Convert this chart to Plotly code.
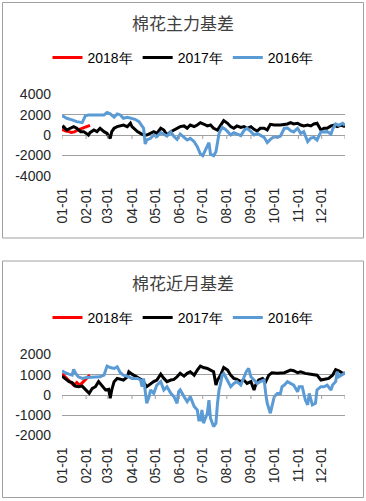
import plotly.graph_objects as go

# ---------------- data ----------------
YEAR = "2001"  # common axis year (month-day comparison)

month_ticks = ["01-01", "02-01", "03-01", "04-01", "05-01", "06-01",
               "07-01", "08-01", "09-01", "10-01", "11-01", "12-01"]

y_ticks_main = [-4000, -2000, 0, 2000, 4000]
y_ticktext_main = ["-4000", "-2000", "0", "2000", "4000"]
y_ticks_near = [-2000, -1000, 0, 1000, 2000]
y_ticktext_near = ["-2000", "-1000", "0", "1000", "2000"]

series_names = ["2018年", "2017年", "2016年"]

# ---- 棉花主力基差 ----
main_2018_dates = ["01-01", "01-05", "01-09", "01-13", "01-17", "01-21", "01-25", "01-29", "02-02", "02-06"]
main_2018_vals = [550, 400, 350, 250, 300, 500, 600, 700, 820, 950]

main_2017_dates = ["01-01", "01-03", "01-07", "01-12", "01-16", "01-20", "01-25", "01-29", "02-02", "02-04",
                   "02-06", "02-11", "02-15", "02-19", "02-24", "02-28", "03-02", "03-04", "03-06", "03-09",
                   "03-13", "03-17", "03-21", "03-26", "03-30", "04-01", "04-03", "04-08", "04-12", "04-16",
                   "04-20", "04-25", "04-29", "05-03", "05-08", "05-12", "05-16", "05-21", "05-25", "05-29",
                   "06-02", "06-07", "06-11", "06-15", "06-20", "06-24", "06-28", "07-02", "07-07", "07-11",
                   "07-15", "07-20", "07-24", "07-28", "08-02", "08-06", "08-10", "08-14", "08-19", "08-23",
                   "08-27", "09-01", "09-05", "09-09", "09-13", "09-18", "09-22", "09-26", "10-01", "10-09",
                   "10-18", "10-22", "10-26", "10-31", "11-04", "11-08", "11-13", "11-17", "11-21", "11-25",
                   "11-30", "12-04", "12-08", "12-13", "12-17", "12-21", "12-26", "12-31"]
main_2017_vals = [700, 820, 490, 660, 820, 660, 330, 330, 160, 0,
                  230, 490, 330, 660, 330, 160, -160, -330, 330, 660,
                  820, 890, 980, 820, 1150, 820, 660, 330, 160, 0,
                  0, 160, 330, 160, 660, 490, 0, 330, 490, 660,
                  820, 890, 660, 980, 820, 980, 1210, 1080, 890, 980,
                  660, 490, 980, 1410, 1150, 820, 660, 890, 750, 820,
                  660, 820, 560, 390, 660, 660, 490, 1050, 980, 980,
                  1080, 1210, 1080, 1150, 980, 890, 980, 890, 1080, 1150,
                  490, 660, 660, 890, 980, 820, 980, 820]

main_2016_dates = ["01-01", "01-07", "01-14", "01-20", "01-27", "01-31", "02-04", "02-11", "02-17", "02-24",
                   "02-28", "03-04", "03-09", "03-13", "03-17", "03-21", "03-26", "03-30", "04-05", "04-10",
                   "04-14", "04-16", "04-18", "04-20", "04-25", "04-29", "05-03", "05-08", "05-12", "05-16",
                   "05-21", "05-25", "05-29", "06-02", "06-07", "06-11", "06-15", "06-20", "06-24", "06-28",
                   "07-01", "07-04", "07-07", "07-09", "07-11", "07-15", "07-18", "07-20", "07-22", "07-26",
                   "07-30", "08-02", "08-06", "08-10", "08-14", "08-19", "08-23", "08-27", "09-01", "09-05",
                   "09-09", "09-13", "09-18", "09-22", "09-26", "10-01", "10-05", "10-09", "10-14", "10-18",
                   "10-22", "10-26", "10-31", "11-04", "11-08", "11-13", "11-17", "11-21", "11-25", "11-30",
                   "12-04", "12-08", "12-13", "12-15", "12-19", "12-23", "12-28", "12-31"]
main_2016_vals = [1900, 1640, 1480, 1310, 1210, 1870, 1970, 1970, 2030, 1970,
                  2200, 2070, 1740, 2070, 1970, 1640, 1740, 1640, 1540, 1310,
                  820, 660, -890, -490, -330, 0, -160, 230, 70, -100,
                  300, -160, -430, 100, -230, -490, -330, -660, -1150, -1870,
                  -2030, -1540, -980, -750, -1870, -2030, -1640, -820, 160, 750,
                  560, 330, 0, 230, 100, -70, 430, 660, 330, 0,
                  160, 0, -230, -750, -430, -160, -230, -100, 660, 690,
                  430, 300, 660, 160, 330, -660, -300, -230, -490, 300,
                  330, 330, 100, 560, 1080, 950, 1150, 950]

# ---- 棉花近月基差 ----
near_2018_dates = ["01-01", "01-05", "01-09", "01-13", "01-16", "01-20", "01-24", "01-27", "01-31", "02-03", "02-06"]
near_2018_vals = [1050, 900, 750, 600, 480, 620, 480, 600, 780, 880, 980]

near_2017_dates = ["01-01", "01-05", "01-10", "01-14", "01-18", "01-22", "01-27", "01-31", "02-03", "02-05",
                   "02-09", "02-13", "02-17", "02-22", "02-26", "03-02", "03-04", "03-06", "03-09", "03-13",
                   "03-17", "03-21", "03-26", "03-28", "04-01", "04-05", "04-10", "04-14", "04-20", "04-25",
                   "04-29", "05-03", "05-08", "05-12", "05-16", "05-21", "05-25", "05-29", "06-02", "06-07",
                   "06-11", "06-15", "06-20", "06-24", "06-28", "07-02", "07-07", "07-11", "07-15", "07-18",
                   "07-20", "07-24", "07-28", "08-02", "08-06", "08-10", "08-14", "08-19", "08-23", "08-27",
                   "09-01", "09-05", "09-07", "09-11", "09-16", "09-20", "09-24", "09-28", "10-05", "10-14",
                   "10-18", "10-22", "10-26", "10-31", "11-04", "11-10", "11-17", "11-25", "11-30", "12-04",
                   "12-10", "12-15", "12-19", "12-23", "12-28", "12-31"]
near_2017_vals = [930, 820, 660, 610, 440, 410, 440, 280, 160, 80,
                  330, 410, 660, 410, 250, 280, -160, 250, 660, 820,
                  770, 740, 900, 1150, 1030, 930, 820, 740, 410, 570,
                  660, 740, 1030, 820, 660, 740, 770, 900, 1070, 930,
                  1070, 1150, 980, 1230, 1430, 1360, 1310, 1230, 1150, 490,
                  740, 980, 1360, 1230, 980, 820, 770, 660, 740, 570,
                  660, 250, 490, 740, 820, 660, 980, 1100, 1070, 1100,
                  1150, 1230, 1200, 1100, 1150, 1070, 1030, 980, 740, 770,
                  820, 980, 1260, 1200, 1070, 1070]

near_2016_dates = ["01-01", "01-05", "01-10", "01-14", "01-16", "01-18", "01-22", "01-27", "02-02", "02-11",
                   "02-19", "02-24", "02-26", "02-28", "03-04", "03-09", "03-13", "03-17", "03-21", "03-26",
                   "04-01", "04-08", "04-12", "04-14", "04-16", "04-18", "04-20", "04-23", "04-25", "04-29",
                   "05-03", "05-08", "05-12", "05-16", "05-21", "05-25", "05-29", "05-31", "06-02", "06-07",
                   "06-11", "06-15", "06-20", "06-24", "06-26", "06-28", "06-30", "07-02", "07-07", "07-09",
                   "07-11", "07-15", "07-18", "07-20", "07-22", "07-24", "07-26", "07-28", "08-02", "08-06",
                   "08-10", "08-14", "08-19", "08-23", "08-26", "08-29", "09-01", "09-05", "09-09", "09-13",
                   "09-18", "09-20", "09-22", "09-26", "09-28", "10-01", "10-05", "10-09", "10-11", "10-14",
                   "10-18", "10-22", "10-26", "10-31", "11-02", "11-06", "11-10", "11-13", "11-15", "11-19",
                   "11-23", "11-25", "11-30", "12-04", "12-08", "12-13", "12-15", "12-19", "12-21", "12-23",
                   "12-26", "12-30", "12-31"]
near_2016_vals = [1200, 1100, 1030, 980, 1260, 1100, 900, 820, 870, 870,
                  900, 980, 1230, 1430, 1360, 1310, 1390, 1100, 980, 930,
                  820, 820, 740, 410, 820, 80, -410, -80, 250, 80,
                  490, 660, 250, 410, 80, -80, -410, 160, 250, -80,
                  -330, -80, -570, -740, -1230, -1230, -740, -1390, -900, -250,
                  -1150, -1560, -1390, -410, 250, 570, 980, 1070, 660, 410,
                  570, 660, 490, 900, 1150, 1310, 900, 740, 570, 660,
                  740, 80, -410, -900, -570, -80, 80, 80, 410, 490,
                  660, 570, 490, 160, 410, 410, -250, -490, 80, -490,
                  -410, 250, 410, 410, 490, 250, 490, 660, 1150, 900,
                  980, 1070, 1030]

# ---------------- styling ----------------
W, H = 366, 501
COLORS = {"2018年": "#FF0000", "2017年": "#000000", "2016年": "#5B9BD5"}
GRID = "#A0A0A0"
FONT = "Liberation Sans, Arial, sans-serif"
CJK = "Noto Sans CJK SC, sans-serif"


def fx(p):
    return p / W


def fy(p):
    return 1 - p / H


def full(dates):
    return [f"{YEAR}-{d}" for d in dates]


def padded(lo, hi, frac=0.003):
    # tiny padding so the outermost gridlines are still drawn
    span = hi - lo
    return [lo - span * frac, hi + span * frac]


tickdates = full(month_ticks)
xrange_ = [f"{YEAR}-01-01", f"{YEAR}-12-31"]

fig = go.Figure()

panels = [
    ("x", "y", "legend",
     [(main_2018_dates, main_2018_vals), (main_2017_dates, main_2017_vals),
      (main_2016_dates, main_2016_vals)]),
    ("x2", "y2", "legend2",
     [(near_2018_dates, near_2018_vals), (near_2017_dates, near_2017_vals),
      (near_2016_dates, near_2016_vals)]),
]
for xa, ya, lg, series in panels:
    for name, (d, v) in zip(series_names, series):
        fig.add_trace(go.Scatter(
            x=full(d), y=v, mode="lines", name=name,
            line=dict(color=COLORS[name], width=3),
            xaxis=xa, yaxis=ya, legend=lg, hoverinfo="skip",
        ))

common_x = dict(type="date", range=xrange_, tickmode="array", tickvals=tickdates,
                ticktext=month_ticks, tickangle=-90, showgrid=False, zeroline=False,
                showline=False, ticks="", ticklabelstandoff=8,
                tickfont=dict(family=FONT, size=14, color="#262626"),
                domain=[fx(62), fx(345)], fixedrange=True)
common_y = dict(showgrid=True, gridcolor=GRID, gridwidth=1, zeroline=False,
                showline=False, ticks="", ticklabelstandoff=10, tickmode="array",
                tickfont=dict(family=FONT, size=14, color="#262626"), fixedrange=True)

top_dom = [fy(176), fy(94)]
bot_dom = [fy(435.7), fy(354.3)]

shapes = []
# small tick marks hanging below the zero (category) axis
for xref, yref in [("x", "y"), ("x2", "y2")]:
    for d in tickdates + [xrange_[1]]:
        shapes.append(dict(type="line", xref=xref, x0=d, x1=d, yref=yref,
                           ysizemode="pixel", yanchor=0, y0=0, y1=-4,
                           line=dict(color=GRID, width=1), layer="above"))
# chart borders
shapes += [
    dict(type="rect", xref="paper", yref="paper", x0=fx(2.5), x1=fx(363.5),
         y0=fy(238), y1=fy(2.5), line=dict(color="#A0A0A0", width=1)),
    dict(type="rect", xref="paper", yref="paper", x0=fx(2.5), x1=fx(363.5),
         y0=fy(497.5), y1=fy(261), line=dict(color="#A0A0A0", width=1)),
]

legend_common = dict(orientation="h", xanchor="center", x=0.5, yanchor="middle",
                     font=dict(family=FONT, size=14, color="#000000"),
                     bgcolor="rgba(0,0,0,0)", traceorder="normal", itemclick=False)

fig.update_layout(
    template="none",
    width=W, height=H,
    margin=dict(l=0, r=0, t=0, b=0),
    paper_bgcolor="white", plot_bgcolor="white",
    xaxis=dict(common_x, anchor="y"),
    yaxis=dict(common_y, domain=top_dom, range=padded(y_ticks_main[0], y_ticks_main[-1]),
               tickvals=y_ticks_main, ticktext=y_ticktext_main, anchor="x"),
    xaxis2=dict(common_x, anchor="y2"),
    yaxis2=dict(common_y, domain=bot_dom, range=padded(y_ticks_near[0], y_ticks_near[-1]),
                tickvals=y_ticks_near, ticktext=y_ticktext_near, anchor="x2"),
    legend=dict(legend_common, y=fy(58)),
    legend2=dict(legend_common, y=fy(318)),
    showlegend=True,
    shapes=shapes,
    annotations=[
        dict(text="棉花主力基差", xref="paper", yref="paper", x=0.5, y=fy(22),
             xanchor="center", yanchor="middle", showarrow=False,
             font=dict(family=CJK, size=17, color="#404040")),
        dict(text="棉花近月基差", xref="paper", yref="paper", x=0.5, y=fy(282),
             xanchor="center", yanchor="middle", showarrow=False,
             font=dict(family=CJK, size=17, color="#404040")),
    ],
)

fig.write_html("out.html", config={"displayModeBar": False, "staticPlot": True},
               post_script="document.body.style.margin='0';document.body.style.padding='0';")
